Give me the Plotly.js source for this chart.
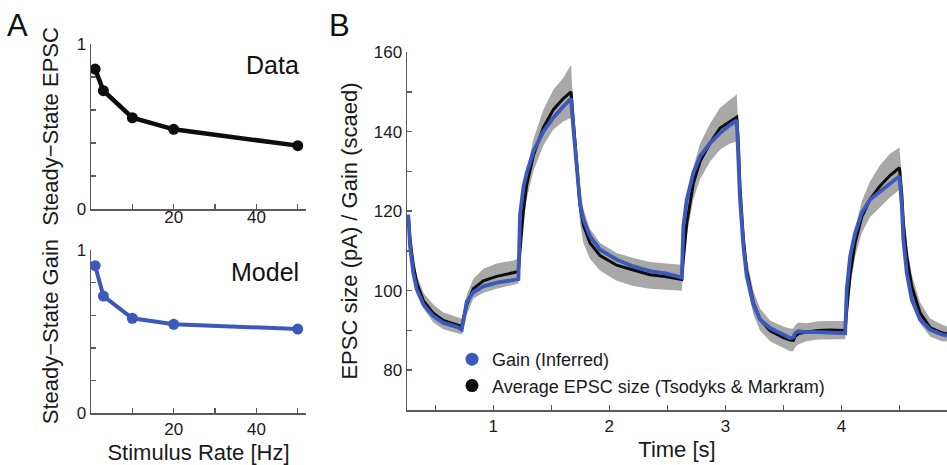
<!DOCTYPE html>
<html>
<head>
<meta charset="utf-8">
<script src="https://cdn.plot.ly/plotly-3.0.1.min.js"></script>
<style>
  html, body { margin: 0; padding: 0; background: #ffffff; overflow: hidden; }
  #chart { width: 947px; height: 465px; }
</style>
</head>
<body>
<div id="chart"></div>
<script>
// ---------------- Panel A data ----------------
const rateHz = [1, 3, 10, 20, 50];
const ssEpscData = [0.848, 0.717, 0.553, 0.483, 0.384];
const ssGainModel = [0.904, 0.718, 0.582, 0.545, 0.516];

const rateTickVals = [10, 20, 30, 40, 50];
const rateTickText = ['', '20', '', '40', ''];
const ssTickVals = [0, 0.2, 0.4, 0.6, 0.8, 1];
const ssTickText = ['0', '', '', '', '', '1'];

// ---------------- Panel B data ----------------
const timeSec = [
  0.267, 0.282, 0.310, 0.340, 0.397, 0.483, 0.569, 0.684, 0.728,
  0.771, 0.828, 0.914, 1.029, 1.172, 1.216,
  1.230, 1.259, 1.287, 1.345, 1.431, 1.517, 1.603, 1.670,
  1.680, 1.719, 1.747, 1.776, 1.833, 1.920, 2.063, 2.207, 2.351, 2.494, 2.606, 2.624,
  2.638, 2.667, 2.724, 2.782, 2.868, 2.954, 3.040, 3.098,
  3.112, 3.126, 3.155, 3.184, 3.241, 3.299, 3.385, 3.500, 3.557, 3.586, 3.601, 3.630,
  3.700, 3.800, 3.900, 4.020, 4.032,
  4.046, 4.075, 4.118, 4.175, 4.247, 4.333, 4.420, 4.500,
  4.521, 4.534, 4.563, 4.606, 4.678, 4.764, 4.865, 4.910
];
const gainInferred = [
  119.1, 111.2, 104.5, 100.3, 96.5, 93.6, 91.9, 90.9, 90.2,
  97.2, 99.6, 101.1, 102.0, 102.6, 102.9,
  119.0, 126.0, 129.5, 135.0, 140.0, 143.5, 146.3, 148.3,
  144.0, 130.4, 122.0, 117.9, 113.7, 110.3, 107.8, 106.1, 104.9, 104.3, 103.4, 103.3,
  116.2, 122.9, 129.6, 133.8, 137.1, 139.6, 141.7, 142.8,
  133.0, 123.0, 111.2, 103.6, 96.5, 92.7, 90.6, 89.0, 88.1, 88.3, 89.3, 89.8,
  89.6, 89.6, 89.5, 89.3, 89.3,
  100.3, 108.6, 114.5, 119.5, 122.9, 125.0, 127.1, 128.8,
  121.2, 112.8, 104.5, 97.8, 92.7, 90.2, 89.0, 88.7
];
const epscMean = [
  119.0, 113.0, 106.5, 102.0, 97.5, 94.3, 92.5, 91.3, 91.0,
  96.5, 100.5, 102.5, 103.6, 104.5, 104.8,
  110.0, 120.0, 126.5, 134.0, 141.0, 145.5, 148.3, 150.0,
  146.0, 131.0, 121.5, 116.5, 112.0, 108.8, 106.4, 105.2, 104.0, 103.5, 102.9, 102.8,
  108.0, 117.0, 127.0, 132.5, 137.1, 140.9, 142.5, 143.6,
  137.0, 126.0, 113.0, 105.0, 97.0, 92.8, 89.9, 88.2, 87.6, 87.5, 88.5, 89.2,
  89.6, 90.0, 90.1, 90.1, 90.0,
  95.0, 104.0, 112.0, 118.5, 123.0, 126.3, 129.0, 130.9,
  124.0, 117.0, 108.6, 101.1, 94.4, 90.7, 89.4, 89.1
];
const epscUpper = [
  120.0, 114.5, 108.0, 104.0, 99.5, 96.5, 94.5, 93.3, 93.0,
  99.0, 103.0, 105.5, 106.8, 107.6, 108.0,
  113.0, 123.0, 130.0, 138.0, 145.5, 150.5, 153.5, 156.8,
  151.0, 136.0, 126.0, 120.5, 115.5, 112.0, 109.5, 108.2, 107.2, 106.8, 106.5, 106.5,
  111.0, 120.0, 131.0, 137.0, 142.0, 146.0, 148.0, 149.3,
  141.0, 130.0, 116.5, 108.0, 100.0, 95.5, 92.5, 91.0, 90.5, 90.5, 91.3, 92.0,
  91.8, 92.3, 92.4, 92.4, 92.4,
  97.5, 107.0, 115.5, 122.5, 127.5, 131.5, 134.5, 136.0,
  128.5, 121.0, 112.0, 104.0, 97.0, 93.0, 91.5, 91.0
];
const epscLower = [
  118.0, 111.5, 105.0, 100.0, 95.5, 92.0, 90.3, 89.3, 89.0,
  94.0, 98.0, 99.5, 100.5, 101.5, 101.8,
  107.0, 117.0, 123.0, 130.0, 136.5, 140.5, 142.5, 143.5,
  141.0, 126.0, 117.0, 112.0, 108.0, 105.0, 102.5, 101.2, 100.5, 100.2, 100.0, 100.0,
  105.0, 114.0, 123.0, 128.0, 132.5, 135.5, 137.0, 137.5,
  133.0, 122.0, 109.5, 102.0, 94.0, 90.0, 87.3, 85.5, 84.8, 84.8, 85.8, 86.5,
  87.3, 87.7, 87.8, 87.8, 87.7,
  92.5, 101.0, 108.5, 114.5, 118.5, 121.0, 123.5, 125.4,
  119.5, 113.0, 105.0, 98.0, 91.8, 88.5, 87.3, 87.2
];

const timeTickVals = [0.5, 1, 1.5, 2, 2.5, 3, 3.5, 4, 4.5];
const timeTickText = ['', '1', '', '2', '', '3', '', '4', ''];
const epscTickVals = [80, 90, 100, 110, 120, 130, 140, 150, 160];
const epscTickText = ['80', '', '100', '', '120', '', '140', '', '160'];

// ---------------- Styles ----------------
const BLUE = '#3b59bc';
const BLACK = '#0d0d0d';
const GRAY = '#a8a8a8';
const AX = '#5a5a5a';
const FONT = 'Liberation Sans, Arial, sans-serif';

function axisBase() {
  return {
    showline: true, linecolor: AX, linewidth: 1.5,
    ticks: 'inside', ticklen: 5, tickwidth: 1.5, tickcolor: AX,
    showgrid: false, zeroline: false, fixedrange: true,
    tickfont: { family: FONT, size: 17, color: '#1a1a1a' }
  };
}

const traces = [
  // Panel A top: data
  { x: rateHz, y: ssEpscData, xaxis: 'x', yaxis: 'y', mode: 'lines+markers',
    line: { color: BLACK, width: 4.5 }, marker: { color: BLACK, size: 11 },
    showlegend: false, hoverinfo: 'skip' },
  // Panel A bottom: model
  { x: rateHz, y: ssGainModel, xaxis: 'x2', yaxis: 'y2', mode: 'lines+markers',
    line: { color: BLUE, width: 4 }, marker: { color: BLUE, size: 11 },
    showlegend: false, hoverinfo: 'skip' },
  // Panel B: gray band
  { x: timeSec, y: epscLower, xaxis: 'x3', yaxis: 'y3', mode: 'lines',
    line: { width: 0, color: GRAY }, showlegend: false, hoverinfo: 'skip' },
  { x: timeSec, y: epscUpper, xaxis: 'x3', yaxis: 'y3', mode: 'lines',
    line: { width: 0, color: GRAY }, fill: 'tonexty', fillcolor: GRAY,
    showlegend: false, hoverinfo: 'skip' },
  // Panel B: black mean
  { x: timeSec, y: epscMean, xaxis: 'x3', yaxis: 'y3', mode: 'lines',
    line: { color: BLACK, width: 3 }, showlegend: false, hoverinfo: 'skip' },
  // Panel B: blue gain
  { x: timeSec, y: gainInferred, xaxis: 'x3', yaxis: 'y3', mode: 'lines',
    line: { color: BLUE, width: 3.8 }, showlegend: false, hoverinfo: 'skip' },
  // legend entries
  { x: [null], y: [null], xaxis: 'x3', yaxis: 'y3', mode: 'markers',
    marker: { color: BLUE, size: 13 }, name: 'Gain (Inferred)' },
  { x: [null], y: [null], xaxis: 'x3', yaxis: 'y3', mode: 'markers',
    marker: { color: BLACK, size: 13 }, name: 'Average EPSC size (Tsodyks & Markram)' }
];

const W = 947, H = 465;
const px = v => v / W;
const py = v => 1 - v / H;

const layout = {
  width: W, height: H,
  margin: { l: 0, r: 0, t: 0, b: 0 },
  paper_bgcolor: '#ffffff', plot_bgcolor: 'rgba(0,0,0,0)',
  font: { family: FONT, color: '#1a1a1a' },
  showlegend: true,
  legend: {
    x: px(452), y: py(341), xanchor: 'left', yanchor: 'top',
    traceorder: 'normal',
    bgcolor: 'rgba(0,0,0,0)', borderwidth: 0,
    font: { family: FONT, size: 18, color: '#1a1a1a' },
    tracegroupgap: 0, itemclick: false, itemdoubleclick: false
  },
  xaxis: Object.assign(axisBase(), {
    domain: [px(91), px(306)], range: [0, 52], anchor: 'y',
    tickvals: rateTickVals, ticktext: rateTickText, ticklabelstandoff: -8
  }),
  yaxis: Object.assign(axisBase(), {
    domain: [py(209), py(44)], range: [0, 1], anchor: 'x',
    tickvals: ssTickVals, ticktext: ssTickText,
    title: { text: 'Steady\u2212State EPSC', font: { family: FONT, size: 22, color: '#1a1a1a' }, standoff: 12 }
  }),
  xaxis2: Object.assign(axisBase(), {
    domain: [px(91), px(306)], range: [0, 52], anchor: 'y2',
    tickvals: rateTickVals, ticktext: rateTickText,
    title: { text: 'Stimulus Rate [Hz]', font: { family: FONT, size: 22, color: '#1a1a1a' }, standoff: 8 }
  }),
  yaxis2: Object.assign(axisBase(), {
    domain: [py(413.3), py(250)], range: [0, 1], anchor: 'x2',
    tickvals: ssTickVals, ticktext: ssTickText,
    title: { text: 'Steady\u2212State Gain', font: { family: FONT, size: 22, color: '#1a1a1a' }, standoff: 12 }
  }),
  xaxis3: Object.assign(axisBase(), {
    domain: [px(407), 1], range: [0.256, 4.91], anchor: 'y3',
    tickvals: timeTickVals, ticktext: timeTickText,
    title: { text: 'Time [s]', font: { family: FONT, size: 22, color: '#1a1a1a' }, standoff: 6 }
  }),
  yaxis3: Object.assign(axisBase(), {
    domain: [py(410), py(52)], range: [70, 160], anchor: 'x3',
    tickvals: epscTickVals, ticktext: epscTickText,
    title: { text: 'EPSC size (pA) / Gain (scaed)', font: { family: FONT, size: 22, color: '#1a1a1a' }, standoff: 10 }
  }),
  annotations: [
    { text: 'A', xref: 'paper', yref: 'paper', x: px(17), y: py(26), xanchor: 'center', yanchor: 'middle',
      showarrow: false, font: { family: FONT, size: 31, color: '#111' } },
    { text: 'B', xref: 'paper', yref: 'paper', x: px(339), y: py(26), xanchor: 'center', yanchor: 'middle',
      showarrow: false, font: { family: FONT, size: 31, color: '#111' } },
    { text: 'Data', xref: 'paper', yref: 'paper', x: px(301), y: py(65), xanchor: 'right', yanchor: 'middle',
      showarrow: false, font: { family: FONT, size: 25, color: '#111' } },
    { text: 'Model', xref: 'paper', yref: 'paper', x: px(301), y: py(272), xanchor: 'right', yanchor: 'middle',
      showarrow: false, font: { family: FONT, size: 25, color: '#111' } }
  ]
};

Plotly.newPlot('chart', traces, layout, { staticPlot: true, displayModeBar: false });
</script>
</body>
</html>
